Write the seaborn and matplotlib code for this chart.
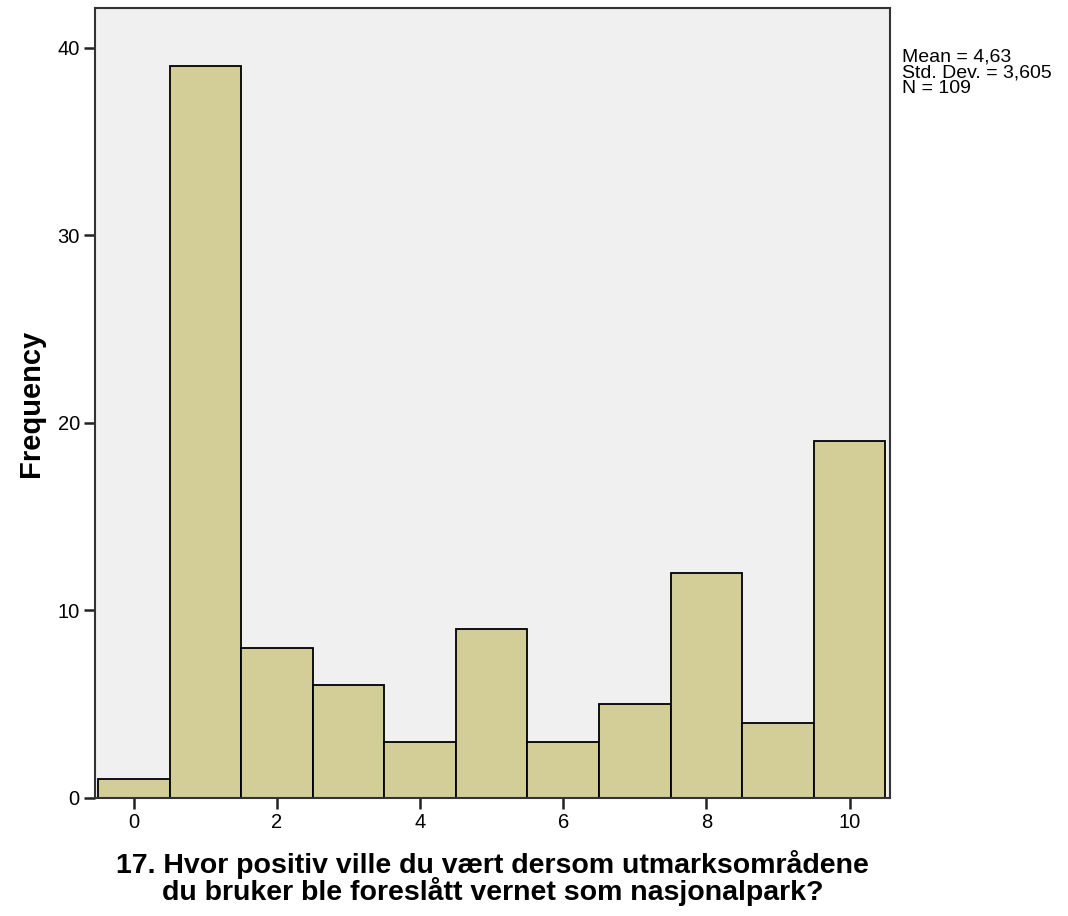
import numpy as np
import seaborn as sns
import matplotlib.pyplot as plt

# Responses 0-10 and how many picked each
scores = [0, 1, 2, 3, 4, 5, 6, 7, 8, 9, 10]
counts = [1, 39, 8, 6, 3, 9, 3, 5, 12, 4, 19]
stats_text = "Mean = 4,63\nStd. Dev. = 3,605\nN = 109"
x_label = "17. Hvor positiv ville du vært dersom utmarksområdene\ndu bruker ble foreslått vernet som nasjonalpark?"

sns.set_style("ticks")
plt.rcParams['font.family'] = ['Liberation Sans', 'DejaVu Sans']
plt.rcParams['text.color'] = 'black'
plt.rcParams['axes.labelcolor'] = 'black'
plt.rcParams['xtick.color'] = 'black'
plt.rcParams['ytick.color'] = 'black'

fig = plt.figure(figsize=(10.68, 9.16), dpi=100)
ax = fig.add_axes([0.089, 0.129, 0.744, 0.862])
ax.set_facecolor("#f0f0f0")

sns.histplot(x=scores, weights=counts, discrete=True, ax=ax,
             color="#d3ce97", alpha=1, edgecolor="black", linewidth=1.3)

ax.set_xlim(-0.54, 10.56)
ax.set_ylim(0, 42.1)
ax.set_xticks([0, 2, 4, 6, 8, 10])
ax.set_yticks([0, 10, 20, 30, 40])
ax.tick_params(labelsize=14.5, length=8, width=1.8, color="#222222", pad=3)
for s in ax.spines.values():
    s.set_linewidth(1.5)
    s.set_color("#333333")

ax.set_ylabel("Frequency", fontsize=21, fontweight="bold", labelpad=9)
ax.set_xlabel(x_label, fontsize=20.5, fontweight="bold", labelpad=13, linespacing=0.92)

fig.text(0.845, 0.947, stats_text, fontsize=14, va="top", ha="left", linespacing=0.92)

plt.savefig("out.png", dpi=100)
plt.close()
